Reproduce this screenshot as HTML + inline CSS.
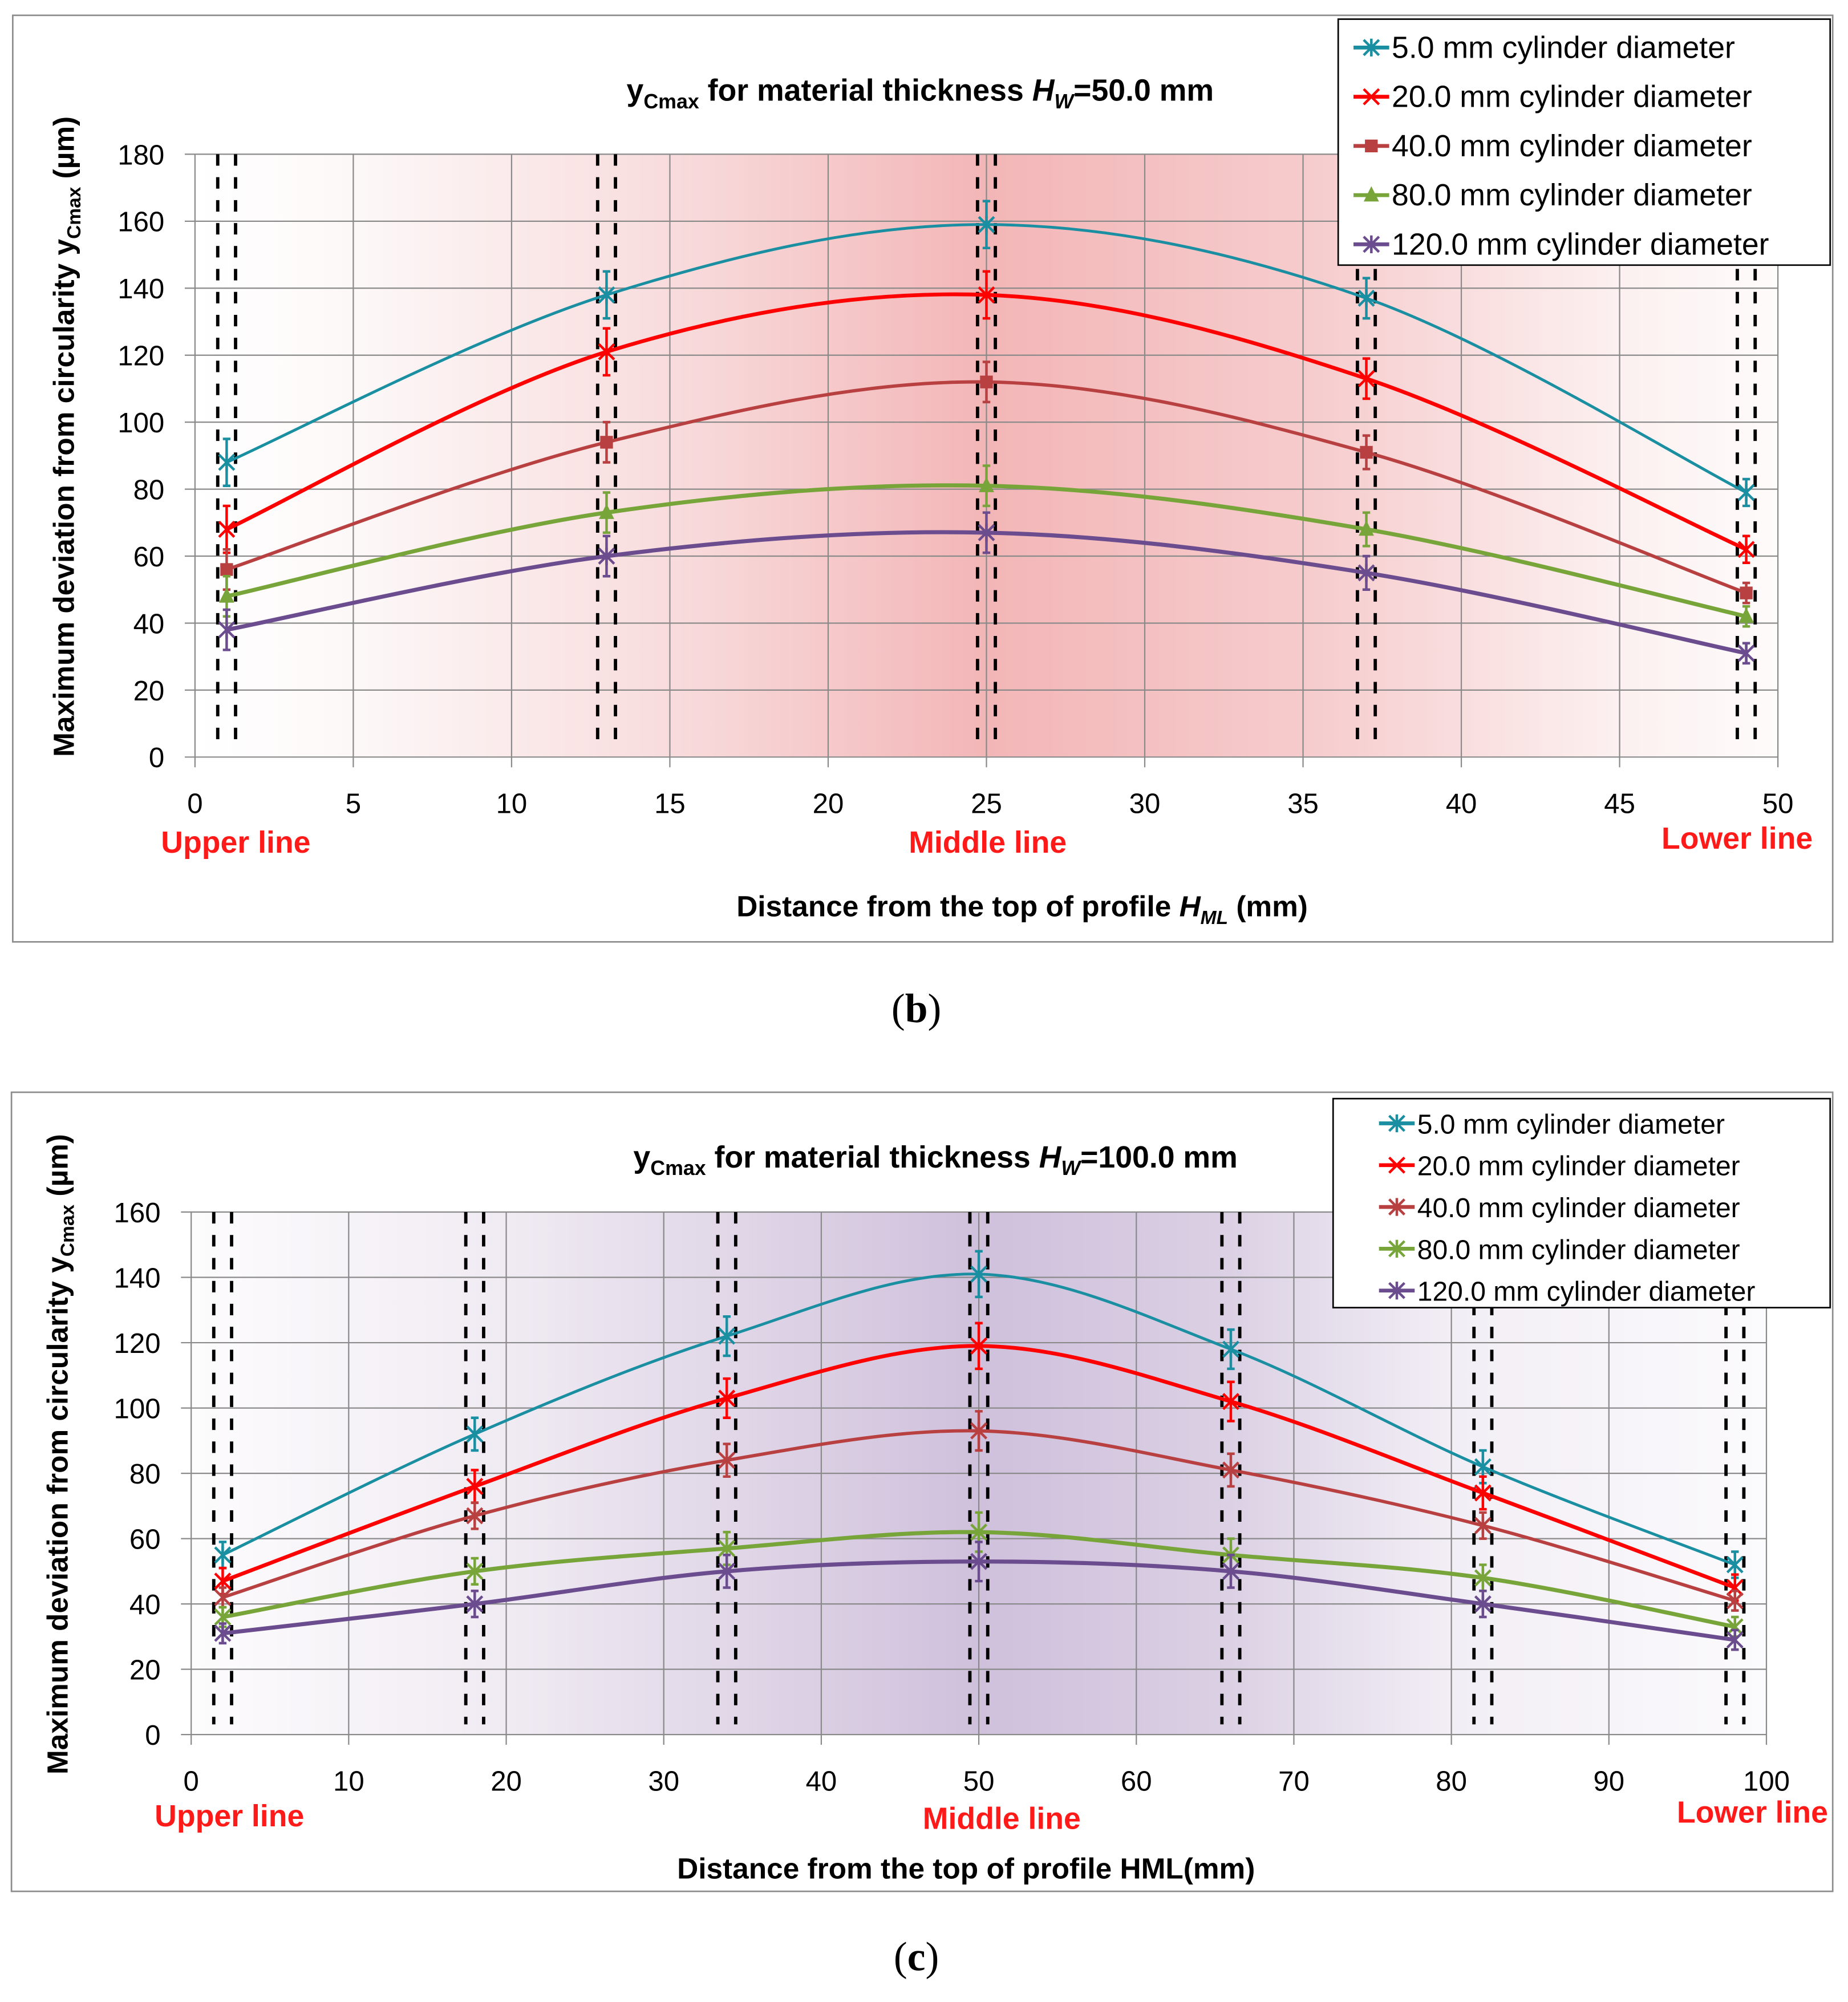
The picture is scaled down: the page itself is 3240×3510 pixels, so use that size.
<!DOCTYPE html>
<html><head><meta charset="utf-8">
<style>
html,body{margin:0;padding:0;background:#fff;}
svg{display:block;font-family:"Liberation Sans",sans-serif;}
</style></head>
<body>
<svg id="root" width="3240" height="3510" viewBox="0 0 1450 1570.8" xmlns="http://www.w3.org/2000/svg">
<defs>
<linearGradient id="gb" x1="0" x2="1" y1="0" y2="0">
<stop offset="0" stop-color="#ffffff"/><stop offset="0.1" stop-color="#fdf8f8"/><stop offset="0.3" stop-color="#f8dcdd"/><stop offset="0.5" stop-color="#f3b6b7"/><stop offset="0.7" stop-color="#f6cbcc"/><stop offset="0.9" stop-color="#fcf0f0"/><stop offset="1" stop-color="#fefbfb"/>
</linearGradient>
<linearGradient id="gc" x1="0" x2="1" y1="0" y2="0">
<stop offset="0" stop-color="#fdfcfd"/><stop offset="0.2" stop-color="#f0ebf3"/><stop offset="0.35" stop-color="#e0d6e7"/><stop offset="0.5" stop-color="#cfc0dc"/><stop offset="0.65" stop-color="#dacfe3"/><stop offset="0.8" stop-color="#f2eef5"/><stop offset="1" stop-color="#fbfafc"/>
</linearGradient>
</defs>
</svg>
<script>
// ---- data: chart b ----
const bX = [1, 13, 25, 37, 49];
const bS5 = [88, 138, 159, 137, 79];
const bS20 = [68, 121, 138, 113, 62];
const bS40 = [56, 94, 112, 91, 49];
const bS80 = [48, 73, 81, 68, 42];
const bS120 = [38, 60, 67, 55, 31];
const bErr = [6, 6, 6, 5, 3];
const bXTicks = [0, 5, 10, 15, 20, 25, 30, 35, 40, 45, 50];
const bYTicks = [0, 20, 40, 60, 80, 100, 120, 140, 160, 180];
// ---- data: chart c ----
const cX = [2, 18, 34, 50, 66, 82, 98];
const cS5 = [55, 92, 122, 141, 118, 82, 52];
const cS20 = [47, 76, 103, 119, 102, 74, 45];
const cS40 = [42, 67, 84, 93, 81, 64, 41];
const cS80 = [36, 50, 57, 62, 55, 48, 33];
const cS120 = [31, 40, 50, 53, 50, 40, 29];
const cErr = [3, 4, 5, 6, 5, 4, 3];
const cXTicks = [0, 10, 20, 30, 40, 50, 60, 70, 80, 90, 100];
const cYTicks = [0, 20, 40, 60, 80, 100, 120, 140, 160];
const seriesNames = ["5.0 mm cylinder diameter","20.0 mm cylinder diameter","40.0 mm cylinder diameter","80.0 mm cylinder diameter","120.0 mm cylinder diameter"];

const colors = ["#1a8fa2","#ff0000","#b84040","#77a53a","#6b4c8e"];
const widths = [2.2,3,2.6,3.2,3.2];
const NS = "http://www.w3.org/2000/svg";
const root = document.getElementById('root');
function mk(tag, attrs, parent, text){
  const e = document.createElementNS(NS, tag);
  for (const k in attrs) e.setAttribute(k, attrs[k]);
  if (text !== undefined) e.textContent = text;
  (parent || root).appendChild(e);
  return e;
}
function curve(pts){
  let d = "M" + pts[0][0] + "," + pts[0][1];
  for (let i = 0; i < pts.length - 1; i++){
    const p0 = pts[Math.max(0,i-1)], p1 = pts[i], p2 = pts[i+1], p3 = pts[Math.min(pts.length-1,i+2)];
    const t = 0.5/3;
    const c1 = [p1[0]+(p2[0]-p0[0])*t, p1[1]+(p2[1]-p0[1])*t];
    const c2 = [p2[0]-(p3[0]-p1[0])*t, p2[1]-(p3[1]-p1[1])*t];
    d += " C" + c1 + " " + c2 + " " + p2;
  }
  return d;
}
function marker(g, k, x, y, c, simple){
  const r = 6;
  if (simple || k === 0 || k === 1 || k === 4){
    mk('line',{x1:x-r,y1:y-r,x2:x+r,y2:y+r,stroke:c,'stroke-width':2},g);
    mk('line',{x1:x-r,y1:y+r,x2:x+r,y2:y-r,stroke:c,'stroke-width':2},g);
    if (k !== 1) mk('line',{x1:x,y1:y-r-1,x2:x,y2:y+r+1,stroke:c,'stroke-width':2},g);
  } else if (k === 2){
    mk('rect',{x:x-5,y:y-5,width:10,height:10,fill:c},g);
  } else {
    mk('path',{d:`M${x},${y-7} L${x+6},${y+5} L${x-6},${y+5} Z`,fill:c},g);
  }
}
function chart(o){
  const g = mk('g',{});
  
  
  const fr = mk('rect',{x:o.fx,y:o.fy,width:o.fw,height:o.fh,fill:'#fff',stroke:'#8c8c8c','stroke-width':1.2},g);
  
  
  const sx = v => o.l + (v - o.xmin)/(o.xmax - o.xmin)*(o.r - o.l);
  const sy = v => o.b - v/o.ymax*(o.b - o.t);
  const bg = mk('rect',{x:o.l,y:o.t,width:o.r-o.l,height:o.b-o.t,fill:o.grad},g);
  
  
  o.yTicks.forEach(v=>{
    const ln = mk('line',{x1:o.l-8,x2:o.r,y1:sy(v),y2:sy(v),stroke:'#8a8a8a','stroke-width':1},g);
    
    
    const t = mk('text',{x:o.l-24,y:sy(v)+8,'text-anchor':'end','font-size':22,fill:'#000'},g,String(v));
    
    
  });
  o.xTicks.forEach(v=>{
    const ln = mk('line',{x1:sx(v),x2:sx(v),y1:o.t,y2:o.b+8,stroke:'#8a8a8a','stroke-width':1},g);
    
    
    const t = mk('text',{x:sx(v),y:o.b+44,'text-anchor':'middle','font-size':22,fill:'#000'},g,String(v));
    
    
  });
  o.xs.forEach(v=>{
    [-7,7].forEach(dx=>{
      const ln = mk('line',{x1:sx(v)+dx,x2:sx(v)+dx,y1:o.t,y2:o.b-8,stroke:'#000','stroke-width':2.6,'stroke-dasharray':'9,9'},g);
      
      
    });
  });
  o.series.forEach((s,k)=>{
    const sg = mk('g',{},g);
    
    
    const pts = s.map((v,i)=>[sx(o.xs[i]), sy(v)]);
    const p = mk('path',{d:curve(pts),fill:'none',stroke:colors[k],'stroke-width':widths[k]},sg);
    
    
    s.forEach((v,i)=>{
      const x = sx(o.xs[i]);
      const e = o.err[i] + (k<2?1:0);
      const eb = mk('path',{d:`M${x},${sy(v+e)}V${sy(v-e)}M${x-3},${sy(v+e)}h6M${x-3},${sy(v-e)}h6`,stroke:colors[k],'stroke-width':2,fill:'none'},sg);
      
      
      marker(sg,k,x,sy(v),colors[k],o.simple);
    });
  });
  const lg = mk('g',{},g);
  
  
  mk('rect',{x:o.lx,y:o.ly,width:o.lw,height:o.lh,fill:'#fff',stroke:'#000','stroke-width':1.2},lg);
  seriesNames.forEach((n,k)=>{
    const y = o.ly + o.lstep*(k+0.5) + 3;
    const ex = o.lx + o.lpad;
    mk('line',{x1:ex,x2:ex+28,y1:y,y2:y,stroke:colors[k],'stroke-width':3},lg);
    marker(lg,k,ex+14,y,colors[k],o.simple);
    const t = mk('text',{x:ex+30,y:y+8,'font-size':o.lfs,fill:'#000'},lg,n);
    
    
  });
  const tt = mk('text',{x:o.tx,y:o.ty,'text-anchor':'middle','font-size':24,'font-weight':'bold',fill:'#000'},g);
  
  
  tt.innerHTML = 'y<tspan font-size="16" dy="6">Cmax</tspan><tspan dy="-6"> for material thickness </tspan><tspan font-style="italic">H</tspan><tspan font-style="italic" font-size="16" dy="6">W</tspan><tspan dy="-6">='+o.hw+' mm</tspan>';
  const yt = mk('text',{transform:`translate(${o.yax},${(o.t+o.b)/2-15}) rotate(-90)`,'text-anchor':'middle','font-size':23,'font-weight':'bold',fill:'#000'},g);
  
  
  yt.innerHTML = 'Maximum deviation from circularity y<tspan font-size="15" dy="5">Cmax</tspan><tspan dy="-5"> (µm)</tspan>';
  const xt = mk('text',{x:o.xtx,y:o.xty,'text-anchor':'middle','font-size':23,'font-weight':'bold',fill:'#000'},g);
  
  
  xt.innerHTML = o.xtitle;
  o.lines.forEach(L=>{
    const t = mk('text',{x:L[1],y:L[2],'text-anchor':'middle','font-size':24,'font-weight':'bold',fill:'#ff1a1a'},g,L[0]);
    
    
  });
  const cap = mk('text',{x:719,y:o.capy,'text-anchor':'middle','font-size':32,'font-family':'Liberation Serif, serif',fill:'#000'},g);
  
  
  cap.innerHTML = '(<tspan font-weight="bold">'+o.cap+'</tspan>)';
}
chart({name:'chart-b',fx:10,fy:12,fw:1428,fh:727,l:153,r:1395,t:121,b:594,xmin:0,xmax:50,ymax:180,
  grad:'url(#gb)',xTicks:bXTicks,yTicks:bYTicks,xs:bX,series:[bS5,bS20,bS40,bS80,bS120],err:bErr,simple:false,
  lx:1050,ly:15,lw:386,lh:193,lstep:38.6,lpad:12,lfs:24,tx:722,ty:79,hw:'50.0',yax:58,xtx:802,xty:719,
  xtitle:'Distance from the top of profile <tspan font-style="italic">H</tspan><tspan font-style="italic" font-size="15" dy="6">ML</tspan><tspan dy="-6"> (mm)</tspan>',
  lines:[['Upper line',185,669],['Middle line',775,669],['Lower line',1363,666]],capy:802,cap:'b'});
chart({name:'chart-c',fx:9,fy:857,fw:1429,fh:627,l:150,r:1386,t:951,b:1361,xmin:0,xmax:100,ymax:160,
  grad:'url(#gc)',xTicks:cXTicks,yTicks:cYTicks,xs:cX,series:[cS5,cS20,cS40,cS80,cS120],err:cErr,simple:true,
  lx:1046,ly:862,lw:390,lh:164,lstep:32.8,lpad:36,lfs:21.5,tx:734,ty:916,hw:'100.0',yax:53,xtx:758,xty:1474,
  xtitle:'Distance from the top of profile HML(mm)',
  lines:[['Upper line',180,1433],['Middle line',786,1435],['Lower line',1375,1430]],capy:1546,cap:'c'});
</script>
</body></html>
